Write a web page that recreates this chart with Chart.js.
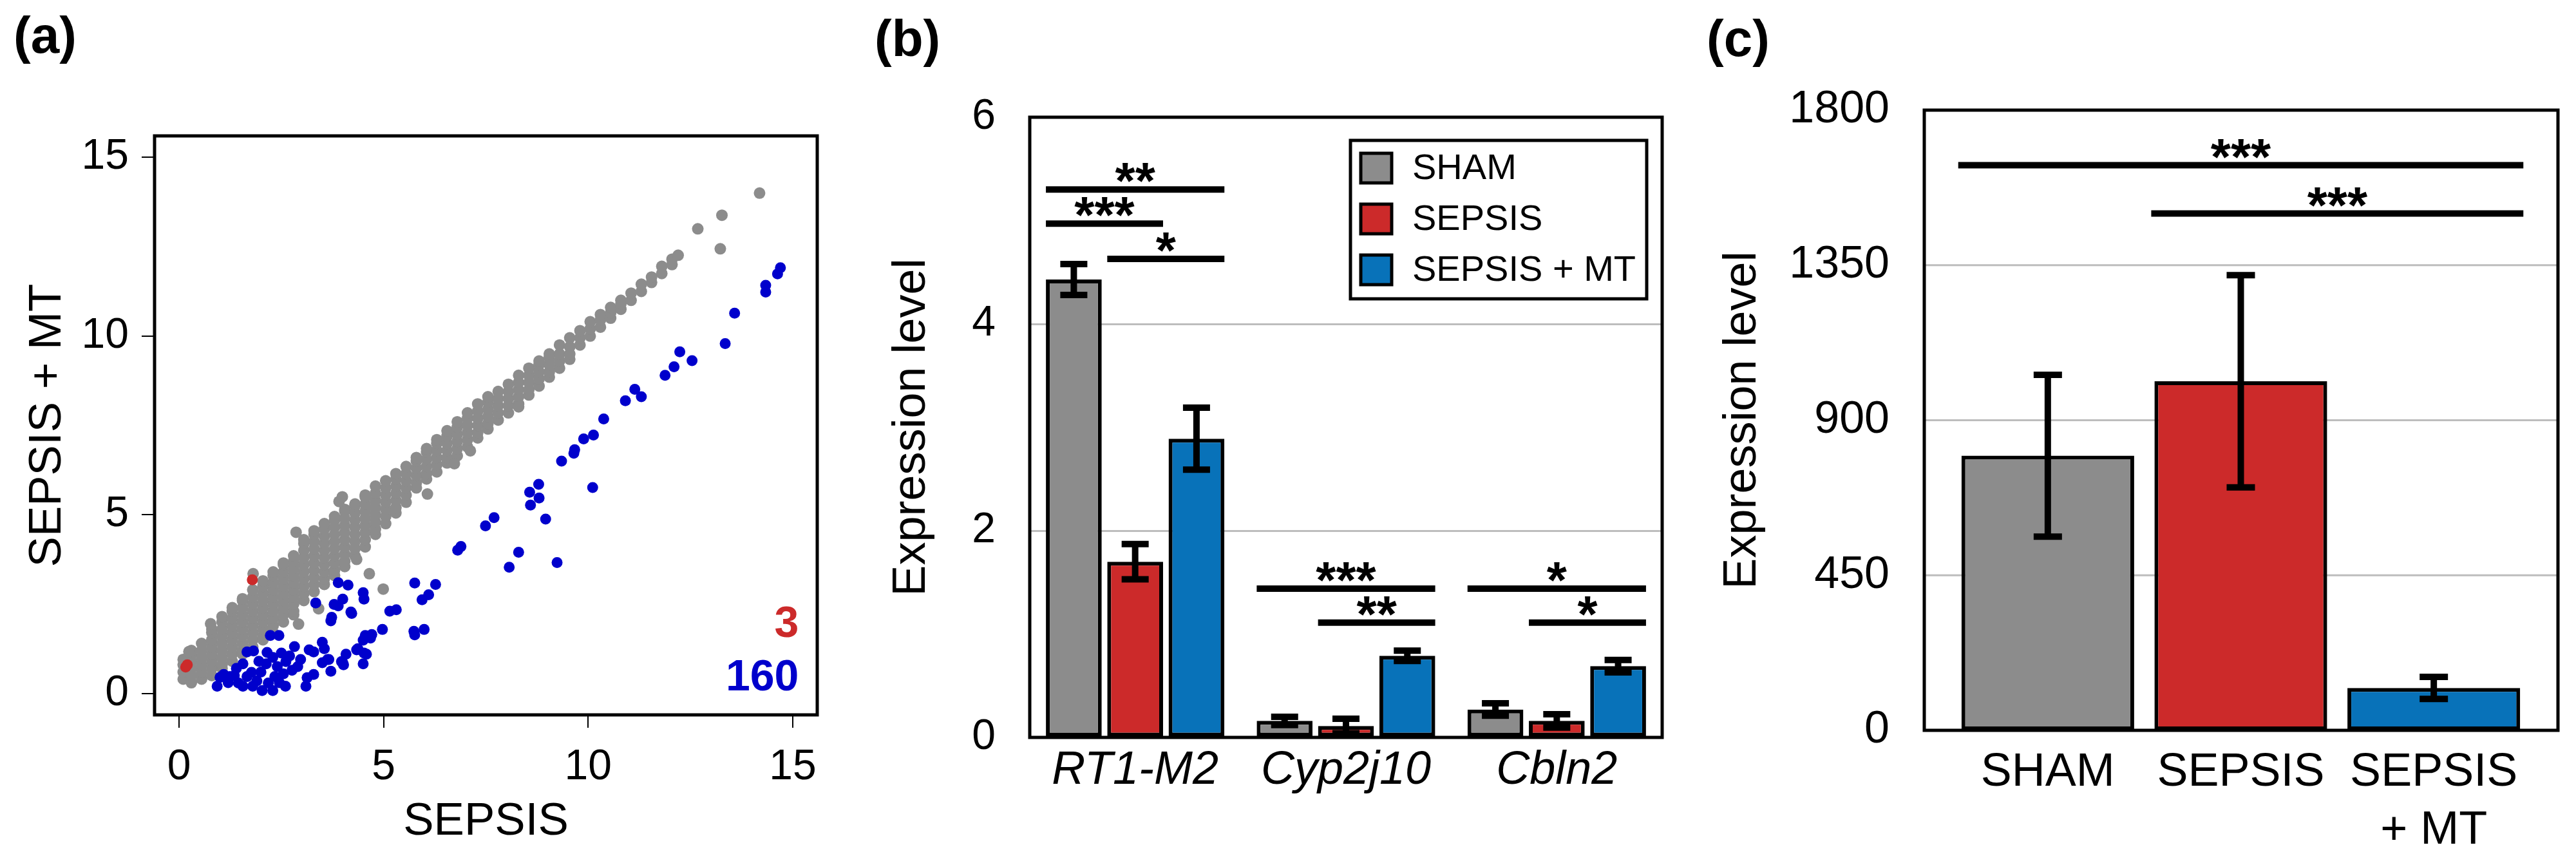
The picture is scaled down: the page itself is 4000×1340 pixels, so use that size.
<!DOCTYPE html>
<html lang="en">
<head>
<meta charset="UTF-8">
<title>SEPSIS vs SEPSIS + MT expression</title>
<script src="https://cdn.jsdelivr.net/npm/chart.js"></script>
<style>
  html, body { margin: 0; padding: 0; background: #fff; }
  body { width: 4000px; height: 1340px; position: relative; overflow: hidden;
         font-family: "Liberation Sans", Arial, sans-serif; }
  canvas { position: absolute; top: 0; }
  .tag { position: absolute; font-weight: bold; font-size: 80px; line-height: 80px; color: #000; }
</style>
</head>
<body>
<canvas id="scatterA" width="1300" height="1340" style="left:0"></canvas>
<canvas id="barsB" width="1300" height="1340" style="left:1300px"></canvas>
<canvas id="barsC" width="1380" height="1340" style="left:2620px"></canvas>
<div class="tag" style="left:21px; top:15px">(a)</div>
<div class="tag" style="left:1358px; top:20px">(b)</div>
<div class="tag" style="left:2650px; top:20px">(c)</div>

<script>
// ---------- panel (a) data: SEPSIS (x) vs SEPSIS + MT (y) ----------
const axisTicksA = [0, 5, 10, 15];

const grayColumns = [
  [0.1, [0.4, 0.6, 0.8, 0.95]],
  [0.3, [0.3, 0.5, 0.7, 0.9, 1.1, 1.2]],
  [0.55, [0.4, 0.6, 0.8, 1.0, 1.2, 1.4]],
  [0.8, [0.5, 0.7, 0.9, 1.1, 1.3, 1.5, 1.7, 1.8]],
  [1.05, [0.7, 0.8, 1.0, 1.2, 1.4, 1.6, 1.8, 2.0, 2.15]],
  [1.3, [0.9, 1.1, 1.3, 1.5, 1.7, 1.9, 2.1, 2.3, 2.4]],
  [1.55, [1.1, 1.2, 1.4, 1.6, 1.8, 2.0, 2.2, 2.4, 2.6, 2.65]],
  [1.8, [1.3, 1.5, 1.7, 1.9, 2.1, 2.3, 2.5, 2.7, 2.9]],
  [2.05, [1.5, 1.6, 1.8, 2.0, 2.2, 2.4, 2.6, 2.8, 3.0, 3.15]],
  [2.3, [1.7, 1.9, 2.1, 2.3, 2.5, 2.7, 2.9, 3.1, 3.3, 3.4]],
  [2.55, [2.0, 2.2, 2.4, 2.6, 2.8, 3.0, 3.2, 3.4, 3.6, 3.65]],
  [2.8, [2.2, 2.3, 2.5, 2.7, 2.9, 3.1, 3.3, 3.5, 3.7, 3.85]],
  [3.05, [2.6, 2.8, 3.0, 3.2, 3.4, 3.6, 3.8, 4.0, 4.2, 4.3]],
  [3.3, [2.85, 3.05, 3.25, 3.45, 3.65, 3.85, 4.05, 4.25, 4.45, 4.55]],
  [3.55, [3.05, 3.2, 3.4, 3.6, 3.8, 4.0, 4.2, 4.4, 4.6, 4.75]],
  [3.8, [3.3, 3.45, 3.65, 3.85, 4.05, 4.25, 4.45, 4.65, 4.85, 4.95]],
  [4.05, [3.55, 3.7, 3.9, 4.1, 4.3, 4.5, 4.7, 4.9, 5.1, 5.15]],
  [4.3, [3.85, 4.05, 4.25, 4.45, 4.65, 4.85, 5.05, 5.25, 5.3]],
  [4.55, [4.1, 4.3, 4.5, 4.7, 4.9, 5.1, 5.3, 5.5, 5.55]],
  [4.8, [4.45, 4.6, 4.8, 5.0, 5.2, 5.4, 5.6, 5.8]],
  [5.05, [4.75, 4.95, 5.15, 5.35, 5.55, 5.75, 5.95]],
  [5.3, [5.05, 5.2, 5.4, 5.6, 5.8, 6.0, 6.15]],
  [5.55, [5.35, 5.55, 5.75, 5.95, 6.15, 6.35]],
  [5.8, [5.75, 5.9, 6.1, 6.3, 6.5, 6.6]],
  [6.05, [6.0, 6.15, 6.35, 6.55, 6.75, 6.85]],
  [6.3, [6.2, 6.4, 6.6, 6.8, 7.0, 7.1]],
  [6.55, [6.45, 6.6, 6.8, 7.0, 7.2, 7.35]],
  [6.8, [6.65, 6.85, 7.05, 7.25, 7.45, 7.6]],
  [7.05, [6.9, 7.1, 7.3, 7.5, 7.7, 7.85]],
  [7.3, [7.15, 7.3, 7.5, 7.7, 7.9, 8.1]],
  [7.55, [7.4, 7.55, 7.75, 7.95, 8.15, 8.3]],
  [7.8, [7.65, 7.85, 8.05, 8.25, 8.45]],
  [8.05, [7.85, 8.05, 8.25, 8.45, 8.65]],
  [8.3, [8.1, 8.3, 8.5, 8.7, 8.9]],
  [8.55, [8.35, 8.5, 8.7, 8.9, 9.1]],
  [8.8, [8.6, 8.8, 9.0, 9.2, 9.3]],
  [9.05, [8.85, 9.0, 9.2, 9.4, 9.5]],
  [9.3, [9.1, 9.3, 9.5, 9.75]],
  [9.55, [9.35, 9.5, 9.7, 9.95]],
  [9.8, [9.75, 9.95, 10.15]],
  [10.05, [10.0, 10.2, 10.4]],
  [10.3, [10.25, 10.45, 10.6]],
  [10.55, [10.5, 10.65, 10.8]],
  [10.8, [10.75, 10.9, 11.0]],
  [11.05, [11.0, 11.2]],
  [11.3, [11.25, 11.45]],
  [11.55, [11.5, 11.65]],
  [11.8, [11.75, 11.95]],
  [12.05, [12.0, 12.15]],
  [12.2, [12.26]]
];
const grayExtra = [
  [12.68, 13.0], [13.23, 12.44], [13.27, 13.38], [14.19, 14.0], [8.30, 8.02],
  [3.91, 5.37], [3.99, 5.5], [2.86, 4.51], [0.77, 1.95], [1.81, 3.35],
  [4.65, 3.35], [4.99, 2.92], [3.41, 2.37], [2.92, 1.94], [0.24, 1.17],
  [6.07, 5.58], [6.73, 6.43], [4.34, 3.75], [7.12, 6.79]
];

// 160 down-regulated (blue) genes, visible points
const bluePoints = [
  [14.70, 11.91], [14.63, 11.74], [14.34, 11.42], [14.34, 11.23], [13.58, 10.64],
  [13.35, 9.79], [12.24, 9.56], [12.54, 9.31], [12.10, 9.14], [11.88, 8.90],
  [11.14, 8.51], [11.30, 8.30], [10.91, 8.19], [10.38, 7.68], [10.13, 7.23],
  [9.89, 7.12], [9.67, 6.82], [9.65, 6.72], [9.35, 6.50], [10.11, 5.76],
  [8.79, 5.85], [8.57, 5.63], [8.80, 5.47], [8.59, 5.27], [8.96, 4.88],
  [7.70, 4.92], [7.49, 4.69], [6.89, 4.11], [6.81, 4.01], [8.30, 3.95],
  [8.07, 3.53], [9.24, 3.66], [6.27, 3.05],
  [3.34, 2.53], [3.89, 3.10], [4.13, 3.03], [4.50, 2.82], [4.52, 2.64],
  [4.00, 2.64], [3.79, 2.49], [3.89, 2.45], [4.22, 2.24], [3.71, 2.03],
  [5.76, 3.09], [6.10, 2.76], [5.94, 2.62], [5.15, 2.30], [4.97, 1.79],
  [5.99, 1.79], [5.76, 1.64], [4.68, 1.55], [4.50, 1.49], [4.37, 1.25],
  [4.58, 1.10], [4.08, 1.10], [4.00, 0.86], [3.63, 0.95], [3.71, 0.62],
  [0.93, 0.20], [1.09, 0.53], [1.24, 0.47], [1.45, 0.29], [1.56, 0.20],
  [1.66, 0.47], [1.77, 0.59], [1.56, 0.83], [1.66, 1.16], [1.82, 1.19],
  [2.03, 0.08], [2.29, 0.08], [2.18, 0.29], [2.34, 0.47], [2.13, 0.83],
  [2.29, 1.01], [2.50, 1.13], [2.61, 0.89], [2.76, 0.65], [2.82, 1.31],
  [2.97, 0.95], [3.18, 1.22], [3.29, 1.16], [3.50, 1.43], [3.55, 1.25],
  [3.50, 0.86], [3.66, 0.95], [3.97, 0.89], [4.02, 0.80], [4.34, 1.22],
  [4.52, 1.13], [4.50, 0.83], [3.13, 0.44], [3.29, 0.53], [3.10, 0.20],
  [2.23, 1.62], [2.44, 1.62], [3.73, 2.13], [4.20, 2.28], [4.55, 1.62],
  [4.71, 1.65], [5.74, 1.74], [5.31, 2.34],
  [1.2, 0.3], [1.35, 0.5], [1.9, 0.35], [2.0, 0.6], [2.45, 0.3],
  [2.55, 0.55], [2.4, 0.75], [1.95, 0.9], [2.7, 1.05], [2.9, 0.75],
  [1.0, 0.45], [1.8, 0.2], [2.6, 0.2], [1.4, 0.7], [2.15, 1.15]
];

// 3 up-regulated (red) genes
const redPoints = [[0.16, 0.74], [0.2, 0.8], [1.79, 3.18]];

// ---------- panel (b) data ----------
const genes = ['RT1-M2', 'Cyp2j10', 'Cbln2'];
const shamB = [4.43, 0.16, 0.27];
const shamErrB = [0.15, 0.04, 0.06];
const sepsisB = [1.70, 0.11, 0.16];
const sepsisErrB = [0.17, 0.07, 0.065];
const mtB = [2.89, 0.79, 0.69];
const mtErrB = [0.30, 0.05, 0.06];
const ticksB = [0, 2, 4, 6];
// [gene, first series, last series, height, stars]
const sigB = [
  [0, 0, 2, 5.30, '**'], [0, 0, 1, 4.97, '***'], [0, 1, 2, 4.63, '*'],
  [1, 0, 2, 1.44, '***'], [1, 1, 2, 1.11, '**'],
  [2, 0, 2, 1.44, '*'], [2, 1, 2, 1.11, '*']
];

// ---------- panel (c) data ----------
const groupsC = ['SHAM', 'SEPSIS', ['SEPSIS', '+ MT']];
const valuesC = [797, 1013, 123];
const errC = [235, 308, 32];
const ticksC = [0, 450, 900, 1350, 1800];
// [first group, last group, height, stars]
const sigC = [[0, 2, 1640, '***'], [1, 2, 1500, '***']];

// ---------- styling ----------
const FONT = '"Liberation Sans", Arial, Helvetica, sans-serif';
const GRAY = '#8c8c8c';
const RED = '#cc2a2a';
const BLUE_BAR = '#0872b9';
const BLUE_DOT = '#0000cc';
const GRID = '#bdbdbd';

Chart.defaults.font.family = FONT;
Chart.defaults.color = '#000';

const xy = p => ({ x: p[0], y: p[1] });
const grayPts = grayColumns.flatMap(c => c[1].map(y => ({ x: c[0], y: y }))).concat(grayExtra.map(xy));

// box around the plotting region (optionally wider than the chart area)
const framePlugin = {
  id: 'frame',
  afterDraw(chart, args, opts) {
    const { left, top, right, bottom } = chart.chartArea;
    const l = left - (opts.extLeft || 0), r = right + (opts.extRight || 0);
    const ctx = chart.ctx;
    ctx.save();
    ctx.lineWidth = opts.width || 4.5;
    ctx.strokeStyle = '#000';
    ctx.strokeRect(l, top, r - l, bottom - top);
    ctx.restore();
  }
};

// horizontal grid lines reaching the widened frame of panel (c)
const wideGridPlugin = {
  id: 'wideGrid',
  beforeDatasetsDraw(chart, args, opts) {
    const { left, right } = chart.chartArea;
    const ys = chart.scales.y;
    const ctx = chart.ctx;
    ctx.save();
    ctx.strokeStyle = GRID;
    ctx.lineWidth = 3;
    ys.ticks.forEach(t => {
      if (t.value === ys.min || t.value === ys.max) return;
      const y = ys.getPixelForValue(t.value);
      ctx.beginPath();
      ctx.moveTo(left - opts.extLeft, y); ctx.lineTo(right + opts.extRight, y);
      ctx.stroke();
    });
    ctx.restore();
  }
};

// mean +/- error whiskers on bars
const errorBarPlugin = {
  id: 'errorBars',
  afterDatasetsDraw(chart, args, opts) {
    const ctx = chart.ctx;
    const ys = chart.scales.y;
    ctx.save();
    ctx.strokeStyle = '#000';
    ctx.lineCap = 'butt';
    opts.errors.forEach((errs, di) => {
      const meta = chart.getDatasetMeta(di);
      const vals = chart.data.datasets[di].data;
      meta.data.forEach((bar, j) => {
        const hi = ys.getPixelForValue(vals[j] + errs[j]);
        const lo = ys.getPixelForValue(vals[j] - errs[j]);
        ctx.lineWidth = opts.stem;
        ctx.beginPath();
        ctx.moveTo(bar.x, hi); ctx.lineTo(bar.x, lo);
        ctx.stroke();
        ctx.lineWidth = opts.cap;
        ctx.beginPath();
        ctx.moveTo(bar.x - opts.capHalf, hi); ctx.lineTo(bar.x + opts.capHalf, hi);
        ctx.moveTo(bar.x - opts.capHalf, lo); ctx.lineTo(bar.x + opts.capHalf, lo);
        ctx.stroke();
      });
    });
    ctx.restore();
  }
};

// significance brackets with stars
const sigPlugin = {
  id: 'sigBars',
  afterDraw(chart, args, opts) {
    const ctx = chart.ctx;
    const ys = chart.scales.y;
    ctx.save();
    ctx.strokeStyle = '#000';
    ctx.fillStyle = '#000';
    ctx.lineWidth = 10;
    ctx.font = 'bold 80px ' + FONT;
    ctx.textAlign = 'center';
    ctx.textBaseline = 'alphabetic';
    opts.items.forEach(it => {
      const a = chart.getDatasetMeta(it.dsA).data[it.iA];
      const b = chart.getDatasetMeta(it.dsB).data[it.iB];
      const left = a.x - a.width / 2 - opts.overhang;
      const right = b.x + b.width / 2 + opts.overhang;
      const y = ys.getPixelForValue(it.y);
      ctx.beginPath();
      ctx.moveTo(left, y); ctx.lineTo(right, y);
      ctx.stroke();
      ctx.fillText(it.label, (left + right) / 2, y + 14);
    });
    ctx.restore();
  }
};

// bordered legend inside panel (b)
const boxLegendPlugin = {
  id: 'boxLegend',
  afterDraw(chart) {
    const ctx = chart.ctx;
    const area = chart.chartArea;
    const w = 460, h = 246;
    const x0 = area.right - 24 - w, y0 = area.top + 36;
    ctx.save();
    ctx.fillStyle = '#fff';
    ctx.fillRect(x0, y0, w, h);
    ctx.lineWidth = 5;
    ctx.strokeStyle = '#000';
    ctx.strokeRect(x0, y0, w, h);
    ctx.font = '56px ' + FONT;
    ctx.textBaseline = 'middle';
    ctx.textAlign = 'left';
    chart.data.datasets.forEach((ds, i) => {
      const cy = y0 + 43 + i * 79;
      ctx.fillStyle = ds.backgroundColor;
      ctx.fillRect(x0 + 16, cy - 23, 48, 46);
      ctx.lineWidth = 5;
      ctx.strokeRect(x0 + 16, cy - 23, 48, 46);
      ctx.fillStyle = '#000';
      ctx.fillText(ds.label, x0 + 96, cy + 2);
    });
    ctx.restore();
  }
};

// gene counts in the corner of panel (a)
const countPlugin = {
  id: 'counts',
  afterDatasetsDraw(chart) {
    const ctx = chart.ctx;
    const xs = chart.scales.x, ys = chart.scales.y;
    ctx.save();
    ctx.font = 'bold 68px ' + FONT;
    ctx.textAlign = 'right';
    ctx.textBaseline = 'middle';
    ctx.fillStyle = RED;
    ctx.fillText(String(redPoints.length), xs.getPixelForValue(15.15), ys.getPixelForValue(1.91));
    ctx.fillStyle = BLUE_DOT;
    ctx.fillText('160', xs.getPixelForValue(15.15), ys.getPixelForValue(0.43));
    ctx.restore();
  }
};

const noGridEdge = (lo, hi) => c => (c.tick && (c.tick.value === lo || c.tick.value === hi)) ? 'rgba(0,0,0,0)' : GRID;
const plain = v => String(v);

// ---------- (a) scatter ----------
new Chart(document.getElementById('scatterA'), {
  type: 'scatter',
  data: {
    datasets: [
      { label: 'n.s.', data: grayPts, backgroundColor: GRAY, pointRadius: 9, borderWidth: 0, order: 3 },
      { label: 'down', data: bluePoints.map(xy), backgroundColor: BLUE_DOT, pointRadius: 8.5, borderWidth: 0, order: 2 },
      { label: 'up', data: redPoints.map(xy), backgroundColor: RED, pointRadius: 8.5, borderWidth: 0, order: 1 }
    ]
  },
  options: {
    responsive: false,
    animation: false,
    layout: { padding: { top: 211, right: 31, bottom: 0, left: 0 }, autoPadding: false },
    plugins: { legend: { display: false }, tooltip: { enabled: false }, frame: { width: 5 } },
    scales: {
      x: {
        type: 'linear', position: 'bottom', min: -0.6, max: 15.6,
        afterBuildTicks: s => { s.ticks = axisTicksA.map(v => ({ value: v })); },
        afterFit: s => { s.height = 230; },
        grid: { drawOnChartArea: false, drawTicks: true, tickLength: 20, color: '#000', lineWidth: 2 },
        border: { display: false },
        ticks: { padding: 22, font: { size: 66 }, callback: plain },
        title: { display: true, text: 'SEPSIS', font: { size: 71 }, padding: { top: 0, bottom: 21 } }
      },
      y: {
        type: 'linear', position: 'left', min: -0.6, max: 15.6,
        afterBuildTicks: s => { s.ticks = axisTicksA.map(v => ({ value: v })); },
        afterFit: s => { s.width = 240; },
        grid: { drawOnChartArea: false, drawTicks: true, tickLength: 20, color: '#000', lineWidth: 2 },
        border: { display: false },
        ticks: { padding: 20, font: { size: 66 }, callback: plain },
        title: { display: true, text: 'SEPSIS + MT', font: { size: 71 }, padding: { top: 32, bottom: 0 } }
      }
    }
  },
  plugins: [framePlugin, countPlugin]
});

// ---------- (b) grouped bars ----------
new Chart(document.getElementById('barsB'), {
  type: 'bar',
  data: {
    labels: genes,
    datasets: [
      { label: 'SHAM', data: shamB, backgroundColor: GRAY },
      { label: 'SEPSIS', data: sepsisB, backgroundColor: RED },
      { label: 'SEPSIS + MT', data: mtB, backgroundColor: BLUE_BAR }
    ]
  },
  options: {
    responsive: false,
    animation: false,
    layout: { padding: { top: 182, right: 19, bottom: 0, left: 0 }, autoPadding: false },
    datasets: { bar: { categoryPercentage: 0.873, barPercentage: 0.91, borderColor: '#000', borderWidth: 6, borderSkipped: false } },
    plugins: {
      legend: { display: false }, tooltip: { enabled: false },
      frame: { width: 5 },
      errorBars: { errors: [shamErrB, sepsisErrB, mtErrB], stem: 10, cap: 10, capHalf: 21 },
      sigBars: { overhang: 0, items: sigB.map(s => ({ dsA: s[1], iA: s[0], dsB: s[2], iB: s[0], y: s[3], label: s[4] })) }
    },
    scales: {
      x: {
        afterFit: s => { s.height = 195; },
        grid: { display: false, drawTicks: false },
        border: { display: false },
        ticks: { padding: 9, font: { size: 72, style: 'italic' } }
      },
      y: {
        min: 0, max: 6,
        afterBuildTicks: s => { s.ticks = ticksB.map(v => ({ value: v })); },
        afterFit: s => { s.width = 299; },
        grid: { drawTicks: false, color: noGridEdge(0, 6), lineWidth: 3 },
        border: { display: false },
        ticks: { padding: 53, font: { size: 66 }, callback: plain },
        title: { display: true, text: 'Expression level', font: { size: 72 }, padding: { top: 73, bottom: 0 } }
      }
    }
  },
  plugins: [framePlugin, errorBarPlugin, sigPlugin, boxLegendPlugin]
});

// ---------- (c) single gene bars ----------
// chart area spans the bar slots only; frame and grid are widened to the outer box
new Chart(document.getElementById('barsC'), {
  type: 'bar',
  data: {
    labels: groupsC,
    datasets: [
      { label: 'Expression', data: valuesC, backgroundColor: [GRAY, RED, BLUE_BAR] }
    ]
  },
  options: {
    responsive: false,
    animation: false,
    layout: { padding: { top: 171, right: 71, bottom: 0, left: 0 }, autoPadding: false },
    datasets: { bar: { categoryPercentage: 1, barPercentage: 0.895, borderColor: '#000', borderWidth: 6, borderSkipped: false } },
    plugins: {
      legend: { display: false }, tooltip: { enabled: false },
      frame: { width: 5, extLeft: 42, extRight: 43 },
      wideGrid: { extLeft: 42, extRight: 43 },
      errorBars: { errors: [errC], stem: 10, cap: 10, capHalf: 22 },
      sigBars: { overhang: 5, items: sigC.map(s => ({ dsA: 0, iA: s[0], dsB: 0, iB: s[1], y: s[2], label: s[3] })) }
    },
    scales: {
      x: {
        afterFit: s => { s.height = 206; },
        grid: { display: false, drawTicks: false },
        border: { display: false },
        ticks: { padding: 22, font: { size: 72, lineHeight: 1.24 } }
      },
      y: {
        min: 0, max: 1800,
        afterBuildTicks: s => { s.ticks = ticksC.map(v => ({ value: v })); },
        afterFit: s => { s.width = 410; },
        grid: { display: false, drawTicks: false },
        border: { display: false },
        ticks: { padding: 96, font: { size: 70 }, callback: plain },
        title: { display: true, text: 'Expression level', font: { size: 72 }, padding: { top: 43, bottom: 0 } }
      }
    }
  },
  plugins: [wideGridPlugin, framePlugin, errorBarPlugin, sigPlugin]
});
</script>
</body>
</html>
